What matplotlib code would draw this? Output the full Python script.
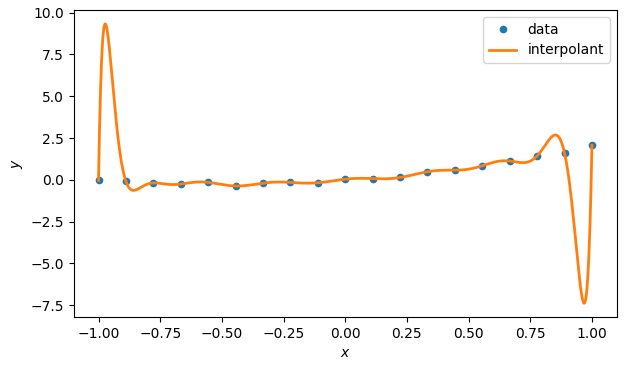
import matplotlib
matplotlib.use('Agg')
import numpy as np
import matplotlib.pyplot as plt

# equally spaced sample points and their values
x_data = np.linspace(-1, 1, 19)
y_data = np.array([-0.03470, -0.09407, -0.18866, -0.25390, -0.15222, -0.36895, -0.20072,
                   -0.15544, -0.17698, 0.03765, 0.07201, 0.13996, 0.48531, 0.57587,
                   0.84285, 1.12157, 1.43168, 1.60362, 2.06507])


def interpolate(xn, yn, xe):
    # degree-18 polynomial through all samples, barycentric form
    w = np.array([1.0 / np.prod(xn[j] - np.delete(xn, j)) for j in range(len(xn))])
    d = xe[:, None] - xn[None, :]
    exact = np.isclose(d, 0)
    d[exact] = 1.0
    t = w / d
    ye = (t @ yn) / t.sum(axis=1)
    hit = exact.any(axis=1)
    ye[hit] = yn[exact[hit].argmax(axis=1)]
    return ye


x_fine = np.linspace(-1, 1, 1000)
y_fine = interpolate(x_data, y_data, x_fine)

fig, ax = plt.subplots(figsize=(6.26, 3.71), dpi=100)
ax.plot(x_data, y_data, 'o', markersize=4.5, label='data')
ax.plot(x_fine, y_fine, linewidth=2, label='interpolant')
ax.set_xlabel('$x$')
ax.set_ylabel('$y$')
ax.legend()
fig.subplots_adjust(left=0.118, right=0.985, top=0.973, bottom=0.145)
fig.savefig('out.png')
